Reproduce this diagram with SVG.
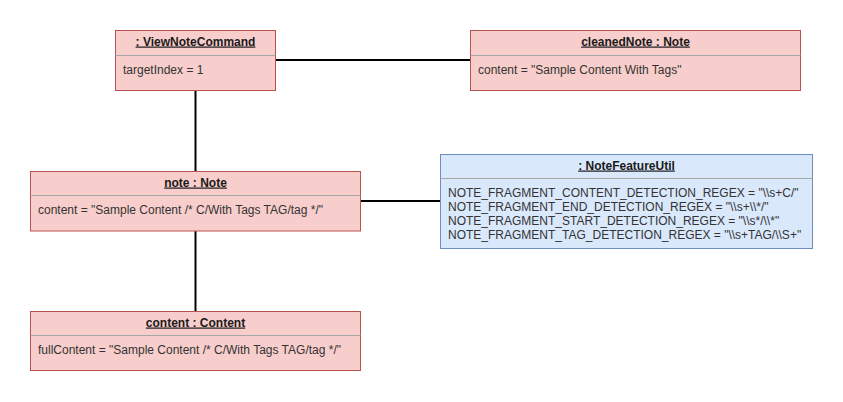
<svg xmlns="http://www.w3.org/2000/svg" width="843" height="402" viewBox="0 0 843 402">
<style>
.pink{fill:#f8cecc;stroke:#b85450;stroke-width:1}
.blue{fill:#dae8fc;stroke:#6c8ebf;stroke-width:1}
.div{stroke:#a6a6a6;stroke-width:1}
.title{font-family:"Liberation Sans",Arial,sans-serif;font-size:12px;font-weight:bold;fill:#1a1a1a;text-anchor:middle;text-decoration:underline}
.attr{font-family:"Liberation Sans",Arial,sans-serif;font-size:12px;fill:#333333}
.conn{stroke:#000;stroke-width:2;fill:none}
</style>
<rect width="843" height="402" fill="#ffffff"/>
<g id="connectors">
<line class="conn" x1="276" y1="60" x2="470" y2="60"/>
<line class="conn" x1="195.5" y1="91" x2="195.5" y2="171"/>
<line class="conn" x1="361" y1="201" x2="440" y2="201"/>
<line class="conn" x1="195.5" y1="231" x2="195.5" y2="311"/>
</g>
<g id="viewNoteCommand">
<rect class="pink" x="115.5" y="30.5" width="160" height="60"/>
<line class="div" x1="115.5" y1="55.5" x2="275.5" y2="55.5"/>
<text class="title" x="195.5" y="45.5">: ViewNoteCommand</text>
<text class="attr" x="123" y="74">targetIndex = 1</text>
</g>
<g id="cleanedNote">
<rect class="pink" x="470.5" y="30.5" width="330" height="60"/>
<line class="div" x1="470.5" y1="55.5" x2="800.5" y2="55.5"/>
<text class="title" x="635.5" y="45.5">cleanedNote : Note</text>
<text class="attr" x="478" y="74">content = "Sample Content With Tags"</text>
</g>
<g id="note">
<rect class="pink" x="30.5" y="171.5" width="330" height="59.5"/>
<line class="div" x1="30.5" y1="195.5" x2="360.5" y2="195.5"/>
<text class="title" x="195.5" y="186.5">note : Note</text>
<text class="attr" x="38" y="214">content = "Sample Content /* C/With Tags TAG/tag */"</text>
</g>
<g id="noteFeatureUtil">
<rect class="blue" x="440.5" y="154.5" width="372" height="94"/>
<line class="div" x1="440.5" y1="178.5" x2="812.5" y2="178.5"/>
<text class="title" x="626.5" y="169.5">: NoteFeatureUtil</text>
<text class="attr" x="448" y="197">NOTE_FRAGMENT_CONTENT_DETECTION_REGEX = "\\s+C/"</text>
<text class="attr" x="448" y="211">NOTE_FRAGMENT_END_DETECTION_REGEX = "\\s+\\*/"</text>
<text class="attr" x="448" y="225">NOTE_FRAGMENT_START_DETECTION_REGEX = "\\s*/\\*"</text>
<text class="attr" x="448" y="239">NOTE_FRAGMENT_TAG_DETECTION_REGEX = "\\s+TAG/\\S+"</text>
</g>
<g id="contentNode">
<rect class="pink" x="30.5" y="311.5" width="330" height="59"/>
<line class="div" x1="30.5" y1="335.5" x2="360.5" y2="335.5"/>
<text class="title" x="195.5" y="326.5">content : Content</text>
<text class="attr" x="38" y="354">fullContent = "Sample Content /* C/With Tags TAG/tag */"</text>
</g>
</svg>
